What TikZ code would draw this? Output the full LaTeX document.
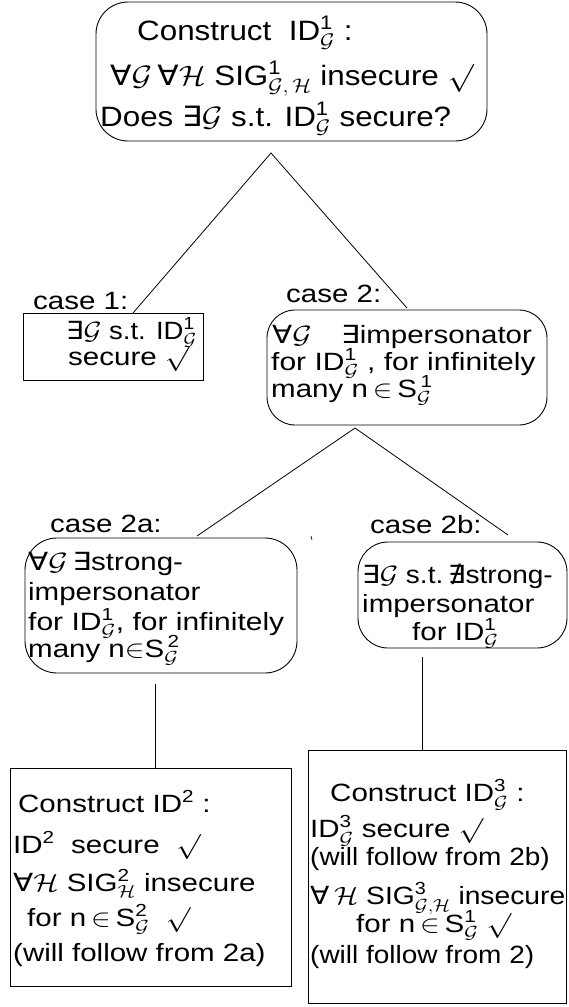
\RequirePackage{fix-cm}
\documentclass[tikz,border=0pt]{standalone}
\usepackage{amsmath}
\usepackage{amssymb}
\usepackage{graphicx}
\usepackage{fontspec}
\setmainfont{Liberation Sans}
\newfontfamily\dv{DejaVu Sans}
\newcommand{\Gc}{\mathcal{G}}
\newcommand{\Hc}{\mathcal{H}}
\newcommand{\FA}{{\dv ∀}}
\newcommand{\EX}{{\dv ∃}}
\newcommand{\NEX}{{\dv ∄}}
\newcommand{\tx}[1]{\text{#1}}
\newcommand{\st}[2][1.18]{\scalebox{#1}[1]{#2}}
\begin{document}
\begin{tikzpicture}[x=1pt,y=-1pt,
  sq/.style={draw,line width=0.9pt,inner sep=0pt},
  rd/.style={sq,rounded corners=#1},
  big/.style={anchor=base west,inner sep=0pt,font=\fontsize{28}{32}\selectfont},
  txt/.style={anchor=base west,inner sep=0pt,font=\fontsize{25}{29}\selectfont},
  ln/.style={line width=0.8pt}]
\useasboundingbox (0,0) rectangle (569,1007);
% boxes
\node[rd=32pt, minimum width=391pt, minimum height=139pt] (top) at (291.5,71.5) {};
\node[sq, minimum width=180pt, minimum height=67pt] (case1) at (113,346.5) {};
\node[rd=28pt, minimum width=280pt, minimum height=115pt] (case2) at (407,367.5) {};
\node[rd=32pt, minimum width=272pt, minimum height=135pt] (case2a) at (161,605.5) {};
\node[rd=30pt, minimum width=209pt, minimum height=106pt] (case2b) at (462.5,595) {};
\node[sq, minimum width=281pt, minimum height=218pt] (id2) at (150.5,877) {};
\node[sq, minimum width=258pt, minimum height=253pt] (id3) at (437,876.5) {};
% connector points
\coordinate (a1) at (271,153);
\coordinate (a1l) at (133,313);
\coordinate (a1r) at (407,308);
\coordinate (a2) at (355,428);
\coordinate (a2l) at (197,536);
\coordinate (a2r) at (508,535);
\coordinate (v1t) at (155,684);
\coordinate (v1b) at (155,768);
\coordinate (v2t) at (422,657);
\coordinate (v2b) at (422,750);
\draw[ln] (a1l) -- (a1) -- (a1r);
\draw[ln] (a2l) -- (a2) -- (a2r);
\draw[ln] (v1t) -- (v1b);
\draw[ln] (v2t) -- (v2b);
\draw[line width=0.7pt] (311,536) -- (312,540);
% top box text
\node[big] (t1) at (137,40) {\st[1.12]{Construct\ \ ID$^{\tx{1}}_{\Gc}$ :}};
\node[big] (t2) at (110,85) {\st[1.12]{\FA$\Gc$\,\FA$\Hc$ SIG$^{\tx{1}}_{\Gc,\,\Hc}$ insecure $\surd$}};
\node[big] (t3) at (100,126) {\st[1.12]{Does \EX$\Gc$ s.t. ID$^{\tx{1}}_{\Gc}$ secure?}};
% case 1
\node[txt] (c1l) at (33,309) {\st{case 1:}};
\node[txt] (c1a) at (66,339) {\st[1.1]{\EX$\Gc$ s.t. ID$^{\tx{1}}_{\Gc}$}};
\node[txt] (c1b) at (68,365) {\st{secure $\surd$}};
% case 2
\node[txt] (c2l) at (286,302) {\st{case 2:}};
\node[txt] (c2a) at (272,343) {\st{\FA$\Gc$\quad\EX impersonator}};
\node[txt] (c2b) at (271,370) {\st[1.2]{for ID$^{\tx{1}}_{\Gc}$ , for infinitely}};
\node[txt] (c2c) at (271,397) {\st{many n$\,\in\,$S$^{\,\tx{1}}_{\Gc}$}};
% case 2a
\node[txt] (c3l) at (50,532) {\st{case 2a:}};
\node[txt] (c3a) at (28,570) {\st{\FA$\Gc$\,\EX strong-}};
\node[txt] (c3b) at (28,600) {\st{impersonator}};
\node[txt] (c3c) at (28,630) {\st[1.2]{for ID$^{\tx{1}}_{\Gc}$, for infinitely}};
\node[txt] (c3d) at (28,657) {\st{many n$\in$S$^{\,\tx{2}}_{\Gc}$}};
% case 2b
\node[txt] (c4l) at (370,533) {\st{case 2b:}};
\node[txt] (c4a) at (362,583) {\st[1.12]{\EX$\Gc$ s.t.\,\NEX strong-}};
\node[txt] (c4b) at (362,612) {\st{impersonator}};
\node[txt] (c4c) at (412,640) {\st{for ID$^{\tx{1}}_{\Gc}$}};
% ID2 box
\node[txt] (d1) at (18,812) {\st{Construct ID$^{\tx{2}}$ :}};
\node[txt] (d2) at (13,853) {\st{ID$^{\tx{2}}$\ \ secure\ \ $\surd$}};
\node[txt] (d3) at (13,891) {\st{\FA$\Hc$\ SIG$^{\tx{2}}_{\Hc}$ insecure}};
\node[txt] (d4) at (27,926) {\st{for n$\,\in\,$S$^{\tx{2}}_{\Gc}$\ \ $\surd$}};
\node[txt] (d5) at (13,961) {\st[1.18]{(will follow from 2a)}};
% ID3 box
\node[txt] (e1) at (330,801) {\st{Construct ID$^{\tx{3}}_{\Gc}$ :}};
\node[txt] (e2) at (310,837) {\st{ID$^{\tx{3}}_{\Gc}$ secure $\surd$}};
\node[txt] (e3) at (310,865) {\st[1.12]{(will follow from 2b)}};
\node[txt] (e4) at (310,904) {\st[1.13]{\FA\,$\Hc$\ SIG$^{\tx{3}}_{\Gc,\Hc}$ insecure}};
\node[txt] (e5) at (356,932) {\st{for n$\,\in\,$S$^{\tx{1}}_{\Gc}$ $\surd$}};
\node[txt] (e6) at (310,963) {\st[1.12]{(will follow from 2)}};
\end{tikzpicture}
\end{document}
